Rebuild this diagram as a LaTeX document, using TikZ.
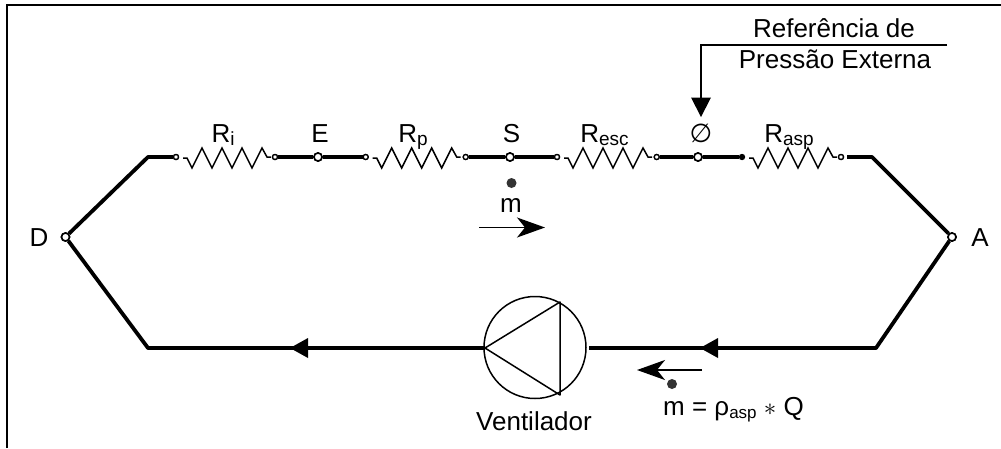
\documentclass[tikz,border=0pt]{standalone}
\usepackage{fontspec}
\setmainfont{Liberation Sans}
\newfontfamily\symfont{DejaVu Sans}
\usetikzlibrary{arrows.meta}
\newcommand{\subt}[2][19]{\raisebox{-3pt}{\fontsize{#1}{#1}\selectfont #2}}
\tikzset{x=1pt,y=-1pt,
 wire/.style={line width=3.8pt,black,line cap=butt},
 thin wire/.style={line width=1.5pt,black,line join=miter},
 term/.style={circle,draw=black,fill=white,line width=1.3pt,minimum size=5pt,inner sep=0pt},
 bigterm/.style={circle,draw=black,fill=white,line width=1.6pt,minimum size=8pt,inner sep=0pt},
 txt/.style={font=\fontsize{26}{30}\selectfont,inner sep=0pt,text=black,anchor=base},
 dotm/.style={circle,fill=black!80,minimum size=10pt,inner sep=0pt},
 flow/.style={line width=1.6pt,-{Stealth[length=28pt,width=20pt,inset=8pt]}}
}
\newcommand{\zig}[1]{%
 \draw[thin wire] (#1+7,158) -- ++(4,0) -- ++(5,10) -- ++(10,-20) -- ++(10,20) -- ++(10,-20) -- ++(10,20) -- ++(10,-20) -- ++(10,20) -- ++(10,-20) -- ++(5,9) -- ++(4,0);}
\begin{document}
\begin{tikzpicture}
\useasboundingbox (0,0) rectangle (1001,448);
\draw[line width=2.2pt] (6.7,448) -- (6.7,5.2) -- (1001,5.2);

\node[bigterm] (E) at (318,157) {};
\node[bigterm] (S) at (510,157) {};
\node[bigterm] (O) at (698,157) {};
\node[bigterm] (D) at (65.5,237) {};
\node[bigterm] (A) at (952,237) {};
\node[term] (a1) at (176,157) {};
\node[term] (a2) at (275,157) {};
\node[term] (b1) at (365.7,157) {};
\node[term] (b2) at (465.7,157) {};
\node[term] (c1) at (557,157) {};
\node[term] (c2) at (656.7,157) {};
\node[term,fill=black] (d1) at (742,157) {};
\node[term] (d2) at (841,157) {};

\zig{176}\zig{365.7}\zig{557}\zig{742}

\coordinate (tl) at (148,157);
\coordinate (tr) at (872,157);
\coordinate (bl) at (148,348);
\coordinate (br) at (876,348);
\coordinate (d2r) at (847,157);
\coordinate (fanr) at (589,348);
\node[circle,draw=black,line width=1.5pt,minimum size=102pt,inner sep=0pt] (V) at (535,347.5) {};
\coordinate (t1) at (485,348);
\coordinate (t2) at (560,302);
\coordinate (t3) at (560,395);
\draw[thin wire,line join=round] (t1) -- (t2) -- (t3) -- cycle;

\draw[wire,line join=round] (D) -- (tl) -- (a1);
\draw[wire] (a2) -- (E) -- (b1);
\draw[wire] (b2) -- (S) -- (c1);
\draw[wire] (c2) -- (O) -- (d1);
\draw[wire,line join=round] (d2r) -- (tr) -- (A);
\draw[wire,line join=round] (A) -- (br) -- (fanr);
\draw[wire,line join=round] (t1) -- (bl) -- (D);
\node[bigterm] at (E) {};\node[bigterm] at (S) {};\node[bigterm] at (O) {};\node[bigterm] at (D) {};\node[bigterm] at (A) {};
\node[term] at (a1) {};\node[term] at (a2) {};\node[term] at (b1) {};\node[term] at (b2) {};\node[term] at (c1) {};\node[term] at (c2) {};\node[term] at (d2) {};

\fill (290,348) -- (308,338) -- (308,358) -- cycle;
\fill (700,348) -- (718,338) -- (718,358) -- cycle;

\node[txt] (Ri) at (223,142) {R\subt{i}};
\node[txt] (Et) at (320,142) {E};
\node[txt] (Rp) at (413,142) {R\subt{p}};
\node[txt] (St) at (511.5,142) {S};
\node[txt] (Re) at (604.5,142) {R\subt{esc}};
\node[txt] (phi) at (701,142) {{\symfont ∅}};
\node[txt] (Ra) at (789,142) {R\subt{asp}};
\node[txt] (Dt) at (39,246) {D};
\node[txt] (At) at (980,246) {A};
\node[txt] (ref1) at (834,37) {Referência de};
\node[txt] (ref2) at (835,68) {Pressão Externa};
\node[txt] (m1) at (511,212) {m};
\node[txt] (vent) at (534,430) {Ventilador};
\node[txt,anchor=base west] (m2) at (663,415) {m = ρ\subt[17]{asp} $*$ Q};
\node[dotm] (dot1) at (511.5,183) {};
\node[dotm] (dot2) at (672,384) {};

\coordinate (refe) at (947,44.7);
\coordinate (refc) at (701,44.7);
\coordinate (refd) at (701,100);
\draw[line width=1.6pt] (refe) -- (refc) -- (refd);
\fill (691,97.5) -- (711,97.5) -- (701,117) -- cycle;

\coordinate (fa) at (479,227.5);
\coordinate (fb) at (545,227.5);
\draw[flow] (fa) -- (fb);
\coordinate (fc) at (702,370);
\coordinate (fd) at (637,370);
\draw[flow] (fc) -- (fd);
\end{tikzpicture}
\end{document}
